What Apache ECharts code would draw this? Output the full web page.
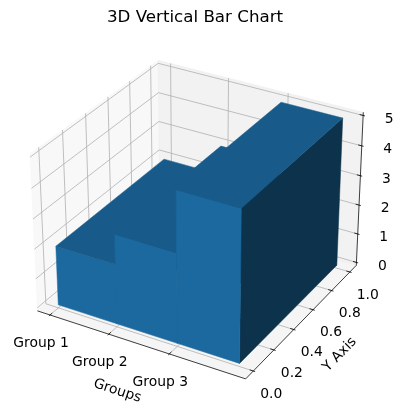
<!DOCTYPE html>
<html>
<head>
<meta charset="utf-8">
<title>3D Vertical Bar Chart</title>
<script src="https://cdn.jsdelivr.net/npm/echarts@6/dist/echarts.min.js"></script>
<style>
  html, body { margin: 0; padding: 0; background: #fff; }
  #chart { width: 403px; height: 413px; }
</style>
</head>
<body>
<div id="chart"></div>
<script>
// data
var groups = ['Group 1', 'Group 2', 'Group 3'];
var barHeights = [2, 3, 5];
var barWidth = 1;
var barDepth = 1;
var xTicks = [0, 1, 2];
var yTicks = [0, 0.2, 0.4, 0.6, 0.8, 1.0];
var yTickLabels = ['0.0', '0.2', '0.4', '0.6', '0.8', '1.0'];
var zTicks = [0, 1, 2, 3, 4, 5];
var zTickLabels = ['0', '1', '2', '3', '4', '5'];

// axis limits like matplotlib: data margin, then the 1/48 view margin
function lim(lo, hi, margin) {
    var d = (hi - lo) * margin;
    lo -= d; hi += d;
    d = (hi - lo) / 48;
    return [lo - d, hi + d];
}
var xLim = lim(0, groups.length - 1 + barWidth, 0.05);
var yLim = lim(0, barDepth, 0.05);
var zLim = lim(0, Math.max.apply(null, barHeights), 0);

// view: elev 30, azim -60, box aspect 4:4:3, perspective
var elev = 30 * Math.PI / 180, azim = -60 * Math.PI / 180, dist = 10;
var k = 1.8294640721620434 * 25 / 24 / Math.sqrt(41);
var box = [4 * k, 4 * k, 3 * k];
function dot(a, b) { return a[0] * b[0] + a[1] * b[1] + a[2] * b[2]; }
var w = [Math.cos(elev) * Math.cos(azim), Math.cos(elev) * Math.sin(azim), Math.sin(elev)];
var un = Math.sqrt(w[0] * w[0] + w[1] * w[1]);
var u = [-w[1] / un, w[0] / un, 0];
var v = [w[1] * u[2] - w[2] * u[1], w[2] * u[0] - w[0] * u[2], w[0] * u[1] - w[1] * u[0]];

function project(x, y, z) {
    var q = [
        ((x - xLim[0]) / (xLim[1] - xLim[0]) - 0.5) * box[0],
        ((y - yLim[0]) / (yLim[1] - yLim[0]) - 0.5) * box[1],
        ((z - zLim[0]) / (zLim[1] - zLim[0]) - 0.5) * box[2]
    ];
    var d = dist - dot(w, q);
    return [dot(u, q) / d, dot(v, q) / d];
}

var W = 403, H = 413;
var view = { scale: 2004, cx: 199.8, cy: 211.9 };

var frontColor = '#1b699f', topColor = '#185b8a', sideColor = '#0d324b';
var gridColor = '#b0b0b0';
var font = 'DejaVu Sans';

function poly(pts, fill) {
    return { type: 'polygon', shape: { points: pts }, style: { fill: fill, stroke: fill, lineWidth: 0.5 } };
}
function pline(pts, color, width) {
    return { type: 'polyline', shape: { points: pts }, style: { stroke: color, lineWidth: width, fill: null } };
}
function label(p, dx, dy, text, rot) {
    return {
        type: 'text', x: p[0] + dx, y: p[1] + dy, rotation: rot || 0,
        style: { text: text, fill: '#000', fontSize: 13.9, fontFamily: font, align: 'center', verticalAlign: 'middle' }
    };
}

function renderFrame(params, api) {
    var x0 = xLim[0], x1 = xLim[1], y0 = yLim[0], y1 = yLim[1], z0 = zLim[0], z1 = zLim[1];
    var P = function (x, y, z) { return api.coord(project(x, y, z)); };
    var dx = (x1 - x0) / 12, dy = (y1 - y0) / 12;
    var kids = [];

    // panes
    kids.push(poly([P(x0, y0, z0), P(x0, y1, z0), P(x0, y1, z1), P(x0, y0, z1)], 'rgba(242,242,242,0.5)'));
    kids.push(poly([P(x0, y1, z0), P(x1, y1, z0), P(x1, y1, z1), P(x0, y1, z1)], 'rgba(230,230,230,0.5)'));
    kids.push(poly([P(x0, y0, z0), P(x1, y0, z0), P(x1, y1, z0), P(x0, y1, z0)], 'rgba(236,236,236,0.5)'));

    // grid lines
    xTicks.forEach(function (x) { kids.push(pline([P(x, y0, z0), P(x, y1, z0), P(x, y1, z1)], gridColor, 0.8)); });
    yTicks.forEach(function (y) { kids.push(pline([P(x1, y, z0), P(x0, y, z0), P(x0, y, z1)], gridColor, 0.8)); });
    zTicks.forEach(function (z) { kids.push(pline([P(x0, y0, z), P(x0, y1, z), P(x1, y1, z)], gridColor, 0.8)); });

    // axis lines
    kids.push(pline([P(x0, y0, z0), P(x1, y0, z0)], '#000', 0.75));
    kids.push(pline([P(x1, y0, z0), P(x1, y1, z0)], '#000', 0.75));
    kids.push(pline([P(x1, y1, z0), P(x1, y1, z1)], '#000', 0.75));

    // ticks and tick labels
    xTicks.forEach(function (x, i) {
        kids.push(pline([P(x, y0 - 0.1 * dy, z0), P(x, y0 + 0.2 * dy, z0)], '#000', 0.8));
        kids.push(label(P(x, y0, z0), -9, 28, groups[i]));
    });
    yTicks.forEach(function (y, i) {
        kids.push(pline([P(x1 + 0.1 * dx, y, z0), P(x1 - 0.2 * dx, y, z0)], '#000', 0.8));
        kids.push(label(P(x1, y, z0), 18, 23, yTickLabels[i]));
    });
    zTicks.forEach(function (z, i) {
        kids.push(pline([P(x1 + 0.1 * dx, y1, z), P(x1 - 0.2 * dx, y1, z)], '#000', 0.8));
        kids.push(label(P(x1, y1, z), 26, 3.5, zTickLabels[i]));
    });

    // axis titles, turned along their axes
    var a = P(x0, y0, z0), b = P(x1, y0, z0), c = P(x1, y1, z0);
    kids.push(label(P((x0 + x1) / 2, y0, z0), -21.5, 47, 'Groups', -Math.atan2(b[1] - a[1], b[0] - a[0])));
    kids.push(label(P(x1, (y0 + y1) / 2, z0), 36.3, 35, 'Y Axis', -Math.atan2(c[1] - b[1], c[0] - b[0])));

    return { type: 'group', children: kids };
}

function renderBar(params, api) {
    var xa = api.value(0), h = api.value(1);
    var xb = xa + barWidth, ya = 0, yb = barDepth;
    var P = function (x, y, z) { return api.coord(project(x, y, z)); };
    return {
        type: 'group',
        children: [
            poly([P(xb, ya, 0), P(xb, yb, 0), P(xb, yb, h), P(xb, ya, h)], sideColor),
            poly([P(xa, ya, 0), P(xb, ya, 0), P(xb, ya, h), P(xa, ya, h)], frontColor),
            poly([P(xa, ya, h), P(xb, ya, h), P(xb, yb, h), P(xa, yb, h)], topColor)
        ]
    };
}

var chart = echarts.init(document.getElementById('chart'));

option = {
    animation: false,
    backgroundColor: '#fff',
    graphic: [{
        type: 'text', x: 195, y: 18,
        style: { text: '3D Vertical Bar Chart', fill: '#000', fontSize: 16.7, fontFamily: font, align: 'center', verticalAlign: 'middle' }
    }],
    grid: { left: 0, right: 0, top: 0, bottom: 0 },
    xAxis: { type: 'value', show: false, min: -view.cx / view.scale, max: (W - view.cx) / view.scale },
    yAxis: { type: 'value', show: false, min: (view.cy - H) / view.scale, max: view.cy / view.scale },
    series: [
        { type: 'custom', name: 'frame', z: 1, silent: true, data: [[0, 0]], renderItem: renderFrame },
        {
            type: 'custom', name: 'bars', z: 2, silent: true,
            data: barHeights.map(function (h, i) { return [xTicks[i], h]; }),
            renderItem: renderBar
        }
    ]
};
chart.setOption(option);
</script>
</body>
</html>
